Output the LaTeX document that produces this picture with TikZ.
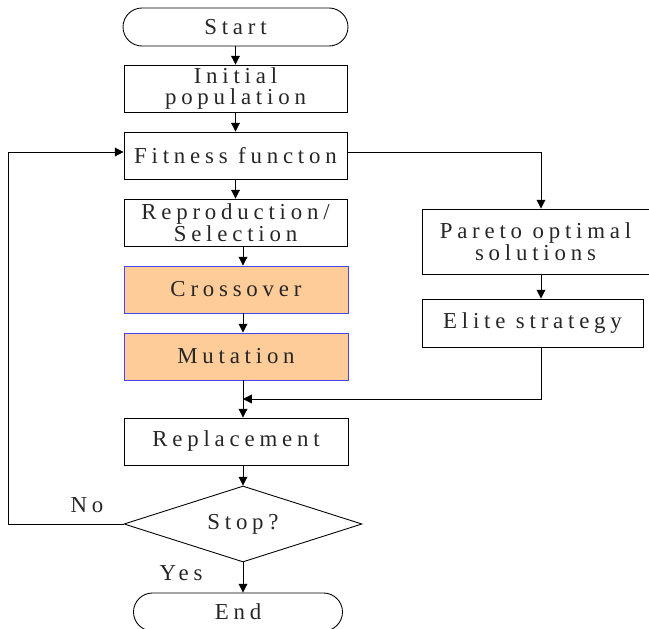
\documentclass[tikz,border=0pt]{standalone}
\usepackage{fontspec}
\setmainfont{Liberation Serif}[LetterSpace=21]
\usepackage{xcolor}
\usetikzlibrary{arrows.meta, shapes.geometric}

\definecolor{opfill}{RGB}{254,204,153}
\definecolor{opline}{RGB}{70,70,235}

\begin{document}
\begin{tikzpicture}[
    >={Triangle[length=5pt, width=5pt]},
    every node/.style={font=\fontsize{13}{12.5}\selectfont, text=black!85},
    box/.style={draw, line width=0.5pt, inner sep=0pt, align=center,
      minimum width=4.46cm, minimum height=0.94cm},
    opbox/.style={box, draw=opline, fill=opfill, minimum width=4.48cm},
    term/.style={box, rounded corners=0.38cm, minimum height=0.76cm},
    test/.style={draw, diamond, shape aspect=3.1, line width=0.5pt, inner sep=0pt,
      minimum width=4.76cm, minimum height=1.52cm},
    line/.style={line width=0.5pt}
  ]
  \useasboundingbox (0, 0) rectangle (12.98, -12.58);

  % main column
  \node[term, minimum width=4.5cm] (start) at (4.71, -0.54) {Start};
  \node[box] (init) at (4.71, -1.77) {Initial\\population};
  \node[box] (fit) at (4.71, -3.11) {Fitness functon};
  \node[box] (repro) at (4.71, -4.45) {Reproduction/\\Selection};
  \node[opbox] (cross) at (4.72, -5.79) {Crossover};
  \node[opbox] (mut) at (4.72, -7.13) {Mutation};
  \node[box, minimum width=4.48cm] (repl) at (4.72, -8.83) {Replacement};
  \node[test] (stop) at (4.86, -10.48) {Stop?};
  \node[term, minimum width=4.18cm] (end) at (4.76, -12.24) {End};

  % side column
  \node[box, minimum width=4.54cm, minimum height=1.30cm] (pareto) at (10.71, -4.83) {Pareto optimal\\solutions};
  \node[box, minimum width=4.42cm, minimum height=0.96cm] (elite) at (10.65, -6.46) {Elite strategy};

  \node (no) at (1.74, -10.10) {No};
  \node (yes) at (3.62, -11.46) {Yes};

  \coordinate (axis) at (4.86, 0);
  \coordinate (merge) at (4.86, -7.98);
  \coordinate (loop) at (0.16, -3.04);
  \coordinate (split) at (10.82, -3.04);

  \draw[line, ->] (start) -- (init);
  \draw[line, ->] (init) -- (fit);
  \draw[line, ->] (fit) -- (repro);
  \draw[line, ->] (repro.south -| axis) -- (cross.north -| axis);
  \draw[line, ->] (cross.south -| axis) -- (mut.north -| axis);
  \draw[line, ->] (mut.south -| axis) -- (repl.north -| axis);
  \draw[line, ->] (repl.south -| axis) -- (stop.north);
  \draw[line, ->] (stop.south) -- (stop.south |- end.north);

  % pareto branch
  \draw[line, ->] (fit.east |- split) -- (split) -- (split |- pareto.north);
  \draw[line, ->] (pareto.south -| split) -- (elite.north -| split);
  \draw[line, ->] (elite.south -| split) |- (merge);

  % back to fitness
  \draw[line, ->] (stop.west) -| (loop) -- (fit.west |- loop);
\end{tikzpicture}
\end{document}
